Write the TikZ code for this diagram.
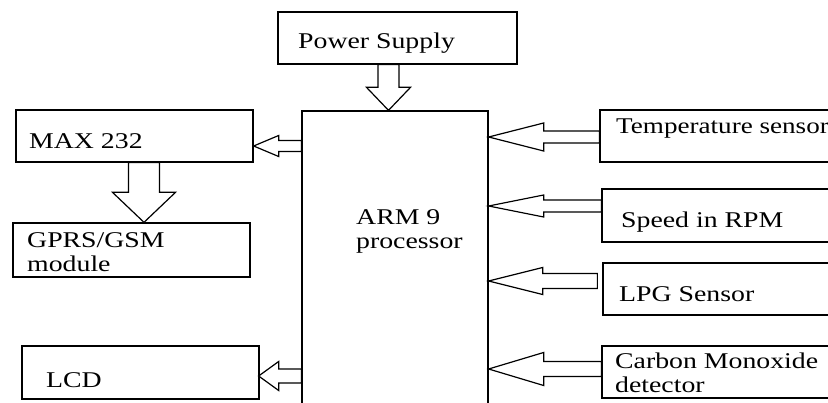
\documentclass[tikz,border=0pt]{standalone}
\usepackage{fontspec}
\setmainfont{Liberation Serif}
\usetikzlibrary{calc}
\newcommand\W[1]{\scalebox{1.235}[1]{#1}}
\newcommand\larrow[5]{% start, tip, shaft half, head half, head length
  \draw[blk] ($(#1)+(0,-#3)$) -- ($(#2)+(#5,-#3)$) -- ($(#2)+(#5,-#4)$) -- (#2)
    -- ($(#2)+(#5,#4)$) -- ($(#2)+(#5,#3)$) -- ($(#1)+(0,#3)$) -- cycle;}
\newcommand\darrow[5]{% start, tip, shaft half, head half, head length
  \draw[blk] ($(#1)+(-#3,0)$) -- ($(#2)+(-#3,-#5)$) -- ($(#2)+(-#4,-#5)$) -- (#2)
    -- ($(#2)+(#4,-#5)$) -- ($(#2)+(#3,-#5)$) -- ($(#1)+(#3,0)$) -- cycle;}
\begin{document}
\begin{tikzpicture}[x=1pt,y=-1pt,
  box/.style={draw,line width=1.3pt,rectangle,inner sep=0},
  blk/.style={draw,line width=1.2pt,fill=white,line join=miter},
  txt/.style={anchor=base west,inner sep=0,font=\fontsize{22.5}{24}\selectfont}]
\useasboundingbox (0,0) rectangle (828,403);
% boxes
\node[box,minimum width=239pt,minimum height=52pt] (power) at (397.5,38) {};
\node[box,minimum width=186pt,minimum height=299pt] (arm) at (395,260.5) {};
\node[box,minimum width=237pt,minimum height=52pt] (max) at (134.5,136) {};
\node[box,minimum width=237pt,minimum height=54pt] (gprs) at (131.5,250) {};
\node[box,minimum width=237pt,minimum height=53pt] (lcd) at (140.5,372.5) {};
\node[box,minimum width=260pt,minimum height=52pt] (temp) at (730,136) {};
\node[box,minimum width=258pt,minimum height=53pt] (speed) at (731,215.5) {};
\node[box,minimum width=257pt,minimum height=52pt] (lpg) at (731.5,289) {};
\node[box,minimum width=258pt,minimum height=52pt] (co) at (731,372) {};
% texts
\node[txt] (powert) at (298,49) {\W{Power Supply}};
\node[txt] (maxt) at (29,149) {\W{MAX 232}};
\node[txt] (gprst1) at (27,248) {\W{GPRS/GSM}};
\node[txt] (gprst2) at (27,272) {\W{module}};
\node[txt] (lcdt) at (46,388) {\W{LCD}};
\node[txt] (armt1) at (356,225) {\W{ARM 9}};
\node[txt] (armt2) at (356,249) {\W{processor}};
\node[txt] (tempt) at (616,134) {\scalebox{1.205}[1]{Temperature sensor}};
\node[txt] (speedt) at (621,228) {\W{Speed in RPM}};
\node[txt] (lpgt) at (619,302) {\W{LPG Sensor}};
\node[txt] (cot1) at (615,369) {\W{Carbon Monoxide}};
\node[txt] (cot2) at (615,393) {\W{detector}};
% arrow end points
\coordinate (a1s) at ($(power.south)+(-9,0)$);
\coordinate (a1t) at (a1s |- arm.north);
\coordinate (a2t) at ($(max.east)+(0,10)$);
\coordinate (a2s) at (a2t -| arm.west);
\coordinate (a3s) at ($(max.south)+(9.5,0)$);
\coordinate (a3t) at (a3s |- gprs.north);
\coordinate (a4t) at ($(lcd.east)+(-1,3.5)$);
\coordinate (a4s) at (a4t -| arm.west);
\coordinate (a5s) at ($(temp.west)+(0,1)$);
\coordinate (a5t) at (a5s -| arm.east);
\coordinate (a6s) at ($(speed.west)+(0,-9.5)$);
\coordinate (a6t) at (a6s -| arm.east);
\coordinate (a7s) at ($(lpg.west)+(-5,-8)$);
\coordinate (a7t) at (a7s -| arm.east);
\coordinate (a8s) at ($(co.west)+(0,-3)$);
\coordinate (a8t) at (a8s -| arm.east);
% block arrows
\darrow{a1s}{a1t}{10.5}{22}{23}
\larrow{a2s}{a2t}{5.5}{10.5}{25}
\darrow{a3s}{a3t}{15.5}{31.5}{30}
\larrow{a4s}{a4t}{7}{14.5}{20}
\larrow{a5s}{a5t}{6}{14}{55}
\larrow{a6s}{a6t}{6}{11}{55}
\larrow{a7s}{a7t}{7.5}{13.5}{54}
\larrow{a8s}{a8t}{7.5}{16.5}{55}
\end{tikzpicture}
\end{document}
